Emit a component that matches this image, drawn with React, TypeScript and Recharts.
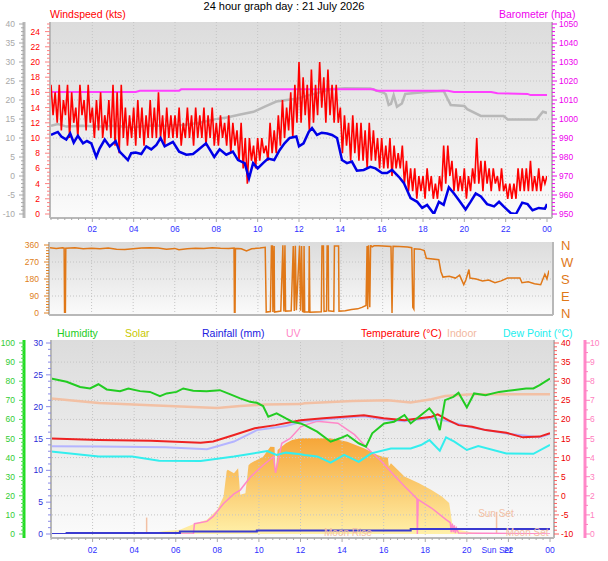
import {
  Area,
  CartesianGrid,
  ComposedChart,
  Line,
  ReferenceDot,
  ReferenceLine,
  XAxis,
  YAxis,
} from "recharts";

const FONT = "'Liberation Sans', Arial, Helvetica, sans-serif";

// ---------- top panel: wind + barometer ----------
// gust speed (kts), one reading every 6 minutes, 00:00 -> 24:00
const gustKts = [
  17, 13, 16, 12, 17, 11, 15, 13, 17, 10,
  16, 12, 14, 10, 17, 13, 15, 11, 17, 12,
  14, 10, 15, 11, 16, 10, 13, 11, 15, 10,
  17, 9, 16, 8, 17, 10, 14, 9, 13, 10,
  14, 9, 15, 10, 14, 9, 13, 10, 15, 10,
  14, 10, 16, 10, 13, 9, 14, 10, 13, 10,
  13, 10, 14, 9, 12, 10, 14, 10, 13, 9,
  14, 10, 13, 10, 14, 9, 13, 10, 14, 9,
  12, 9, 13, 10, 12, 9, 13, 8, 12, 9,
  11, 7, 12, 6, 10, 4, 10, 7, 9, 6,
  10, 7, 10, 8, 9, 7, 12, 8, 11, 8,
  13, 9, 15, 10, 14, 11, 16, 10, 17, 12,
  20, 12, 18, 13, 17, 11, 19, 12, 17, 13,
  20, 14, 18, 12, 19, 13, 17, 12, 17, 12,
  14, 8, 13, 9, 12, 7, 13, 8, 12, 7,
  12, 7, 11, 6, 12, 7, 11, 7, 10, 6,
  10, 6, 9, 6, 10, 5, 9, 6, 8, 6,
  9, 4, 7, 3, 6, 3, 6, 2, 5, 3,
  5, 2, 6, 3, 5, 2, 4, 2, 5, 3,
  9, 4, 9, 5, 7, 3, 6, 3, 5, 3,
  6, 2, 5, 3, 6, 4, 10, 4, 7, 3,
  7, 4, 6, 3, 6, 4, 5, 3, 6, 3,
  4, 2, 4, 2, 4, 2, 6, 3, 6, 3,
  6, 3, 7, 3, 5, 3, 6, 3, 5, 4,
  5,
];

type Pair = [number, number];

// average wind (kts)
const avgWind: Pair[] = [
  [0, 10.4], [0.33, 10.8], [0.5, 10.2], [0.74, 9.8], [0.93, 10.6], [1.1, 9.4], [1.3, 10.3],
  [1.55, 9.3], [1.74, 9.6], [1.95, 9.3], [2.19, 7.5], [2.35, 8.6], [2.6, 9.8], [2.84, 8.9],
  [3.13, 9.6], [3.32, 8.2], [3.72, 7.1], [3.88, 8.0], [4.1, 8.1], [4.37, 7.9], [4.61, 8.9],
  [4.85, 8.5], [5.1, 9.1], [5.3, 10.0], [5.5, 8.9], [5.9, 9.5], [6.2, 8.2], [6.55, 7.8],
  [6.87, 7.9], [7.1, 8.4], [7.5, 9.3], [7.9, 7.5], [8.16, 8.5], [8.48, 7.8], [8.8, 8.2],
  [9.05, 7.1], [9.37, 6.7], [9.58, 4.7], [9.78, 6.7], [10.0, 6.0], [10.26, 6.7], [10.5, 7.3],
  [10.8, 7.1], [11.06, 8.4], [11.3, 9.3], [11.55, 10.0], [11.87, 10.2], [12.0, 8.9],
  [12.22, 9.3], [12.47, 10.8], [12.63, 11.3], [12.87, 10.4], [13.1, 10.7], [13.36, 10.6],
  [13.6, 10.4], [13.84, 10.0], [14.08, 7.1], [14.32, 6.7], [14.56, 6.9], [14.8, 5.7],
  [15.13, 5.8], [15.45, 6.2], [15.7, 6.0], [16.02, 5.4], [16.26, 5.4], [16.5, 5.8],
  [16.83, 4.9], [17.07, 4.1], [17.4, 2.1], [17.72, 1.6], [17.96, 0.8], [18.2, 1.2],
  [18.53, 0], [18.77, 1.6], [19.0, 1.2], [19.25, 3.5], [19.5, 2.7], [19.74, 1.8],
  [20.06, 0.6], [20.3, 1.6], [20.55, 2.7], [20.8, 2.3], [21.1, 1.3], [21.44, 1.0],
  [21.68, 1.6], [21.9, 1.0], [22.25, 0.1], [22.5, 0], [22.8, 1.5], [23.06, 1.3],
  [23.3, 0.5], [23.6, 0.8], [23.9, 0.7], [24, 1.3],
];

// grey trace, left grey scale
const greyTrace: Pair[] = [
  [0, 13.2], [0.33, 13.7], [0.75, 13.0], [1.5, 13.2], [2.3, 13.0], [3.1, 13.2], [3.9, 12.8],
  [4.7, 13.2], [5.6, 13.2], [6.4, 13.4], [7.2, 14.0], [7.9, 14.9], [8.5, 15.4], [9.1, 16.1],
  [9.8, 16.9], [10.4, 18.4], [10.9, 19.6], [11.4, 20.0], [12.0, 20.4], [12.22, 20.9],
  [12.87, 21.8], [13.5, 22.8], [14.2, 23.1], [15.45, 23.0], [16.1, 21.9], [16.2, 21.5],
  [16.34, 18.7], [16.45, 19], [16.58, 21.3], [16.74, 18.2], [16.98, 19.1], [17.14, 21.6],
  [17.72, 21.9], [18.37, 22.2], [19.0, 22.4], [19.18, 20.4], [19.34, 18.7], [20.0, 18.4],
  [20.14, 17.6], [20.8, 15.8], [21.9, 15.8], [22.1, 14.9], [23.5, 14.9], [23.8, 16.9],
  [24, 16.6],
];

const baroHpa: Pair[] = [
  [0, 1014.2], [4.1, 1014.2], [4.3, 1014.9], [6.2, 1014.9], [6.3, 1015.6], [15.6, 1015.6],
  [15.75, 1014.9], [19.2, 1014.9], [19.5, 1014.2], [21.3, 1014.2], [21.6, 1013.5],
  [23.06, 1013.2], [23.2, 1012.6], [24, 1012.6],
];

// ---------- middle panel: wind direction (deg) ----------
const windDir: Pair[] = [
  [0, 345], [0.3, 342], [0.6, 346], [0.68, 344], [0.7, 0], [0.74, 0], [0.76, 343], [1.2, 345],
  [1.6, 340], [2, 343], [2.4, 340], [2.8, 344], [3.2, 338], [3.6, 336], [4, 340], [4.4, 344],
  [4.8, 346], [5.2, 344], [5.6, 338], [6, 342], [6.2, 335], [6.6, 340], [7, 343], [7.4, 342],
  [7.8, 346], [8.2, 343], [8.6, 342], [8.85, 344], [8.87, 0], [8.9, 0], [8.92, 342],
  [9.2, 340], [9.45, 328], [9.7, 340], [10.1, 344], [10.35, 348], [10.4, 5], [10.6, 8],
  [10.65, 355], [10.7, 355], [10.72, 5], [10.78, 355], [10.8, 5], [11.1, 10], [11.2, 358],
  [11.25, 8], [11.3, 358], [11.33, 10], [11.6, 12], [11.7, 355], [11.75, 10], [11.8, 356],
  [11.85, 15], [12, 356], [12.05, 12], [12.1, 355], [12.15, 8], [12.2, 6], [12.22, 355],
  [12.25, 5], [12.45, 5], [12.47, 355], [12.5, 4], [13.05, 6], [13.08, 355], [13.15, 355],
  [13.18, 8], [13.3, 10], [13.33, 355], [13.38, 355], [13.4, 12], [13.65, 8], [13.68, 355],
  [13.88, 355], [13.9, 10], [14.2, 12], [14.5, 18], [14.8, 22], [15.0, 30], [15.2, 40],
  [15.25, 355], [15.28, 20], [15.32, 358], [15.38, 30], [15.42, 358], [15.5, 350],
  [15.6, 357], [16, 355], [16.4, 352], [16.45, 0], [16.5, 353], [16.8, 352], [17.2, 350],
  [17.4, 346], [17.45, 30], [17.5, 20], [17.52, 340], [17.8, 338], [18.0, 330], [18.1, 290],
  [18.7, 282], [18.8, 220], [18.9, 190], [19.2, 195], [19.5, 185], [19.7, 200], [19.9, 150],
  [20.0, 175], [20.15, 230], [20.2, 185], [20.5, 180], [20.8, 170], [21.1, 175], [21.4, 160],
  [21.7, 170], [22.0, 185], [22.3, 185], [22.6, 185], [22.7, 160], [23.0, 165], [23.3, 155],
  [23.6, 150], [23.8, 205], [23.9, 180], [24, 225],
];
const compassLabels = ["N", "E", "S", "W", "N"];

// ---------- bottom panel ----------
const humidity: Pair[] = [
  [0, 81.4], [0.75, 79.7], [1.4, 77.0], [1.88, 76.2], [2.28, 78.4], [2.68, 75.7], [3.32, 74.8],
  [3.72, 76.2], [4.28, 74.8], [4.76, 74.4], [5.24, 72.2], [5.56, 73.6], [6.04, 74.4],
  [6.36, 76.2], [6.84, 75.0], [7.48, 74.8], [8.12, 75.3], [8.6, 73.2], [9.1, 71.0],
  [9.58, 69.2], [9.9, 68.7], [10.2, 67.0], [10.45, 61.4], [10.85, 63.2], [11.3, 60.5],
  [11.6, 58.8], [12.0, 57.9], [12.2, 57.0], [12.8, 53.6], [13.45, 48.3], [13.9, 50.1],
  [14.25, 51.8], [14.8, 47.5], [15.15, 45.7], [15.45, 52.7], [16.02, 57.9], [16.5, 58.8],
  [17.0, 62.3], [17.3, 57.9], [17.8, 62.3], [18.2, 65.8], [18.45, 62.3], [18.7, 54.4],
  [18.95, 70.1], [19.35, 71.8], [19.6, 73.9], [20.0, 66.3], [20.35, 73.6], [20.9, 72.7],
  [21.55, 74.4], [22.2, 75.3], [22.85, 76.2], [23.2, 76.2], [23.5, 77.9], [24, 81.4],
];
const tempOut: Pair[] = [
  [0, 15.0], [2.3, 14.6], [4.8, 14.4], [7.2, 13.9], [7.8, 14.2], [8.8, 15.9], [9.8, 17.7],
  [10.8, 18.5], [12.0, 19.8], [13.1, 20.3], [15.05, 21.1], [16.0, 20.3], [17.0, 19.8],
  [18.3, 20.7], [18.6, 21.3], [19.1, 19.8], [19.6, 18.5], [20.25, 18.1], [20.9, 17.2],
  [21.9, 16.5], [22.7, 15.3], [23.5, 15.5], [24, 16.4],
];
const tempIn: Pair[] = [
  [0, 25.5], [2.3, 24.3], [4.8, 23.7], [8.0, 23.0], [9.1, 23.5], [10.3, 23.9], [12.0, 24.0],
  [12.2, 24.2], [14.5, 24.8], [16.2, 25.0], [17.3, 24.4], [18.3, 25.3], [18.95, 26.1],
  [20.25, 26.6], [24, 26.6],
];
const dewPoint: Pair[] = [
  [0, 11.6], [2.3, 10.3], [3.9, 10.3], [5.2, 9.2], [7.2, 9.1], [8.8, 10.3], [10.4, 11.7],
  [10.85, 10.7], [11.3, 11.3], [12.0, 10.9], [12.2, 10.7], [12.8, 10.3], [13.45, 8.7],
  [14.1, 10.7], [14.8, 8.9], [15.4, 11.1], [16.35, 12.4], [17.3, 12.4], [17.8, 13.3],
  [18.2, 14.6], [18.7, 11.8], [19.0, 15.3], [19.4, 14.2], [20.0, 12.0], [20.55, 13.0],
  [21.9, 11.1], [23.2, 11.0], [24, 13.3],
];
const feelsLike: Pair[] = [
  [0, 13.0], [2.3, 12.9], [5.5, 12.7], [7.5, 12.2], [8.8, 14.2], [9.9, 17.2], [11.3, 18.3],
  [12.0, 19.3], [13.1, 20.0], [15.05, 20.8], [16, 20.0], [17, 19.5], [18.3, 20.4],
  [19.1, 19.5], [20.25, 17.9], [21.9, 16.3], [23.5, 15.3], [24, 16.2],
];
const uvIndex: Pair[] = [
  [0, 0], [6.85, 0], [6.9, 0.54], [7.5, 0.66], [7.8, 0.92], [8.3, 1.6], [8.8, 2.1], [9.1, 2.3],
  [9.6, 3.0], [10.2, 3.6], [10.7, 4.05], [10.8, 3.2], [11.1, 4.75], [11.5, 5.0], [12.0, 5.6],
  [12.2, 5.7], [12.8, 5.9], [13.8, 5.8], [14.6, 5.2], [15.2, 4.5], [15.9, 3.8], [16.4, 3.2],
  [17.0, 2.5], [17.6, 1.85], [17.62, 0], [17.66, 1.8], [18.3, 1.36], [19.0, 0.75],
  [19.2, 0.6], [19.25, 0.1], [19.3, 0.55], [19.35, 0.1], [19.4, 0.45], [19.45, 0.05],
  [19.5, 0.3], [19.6, 0.05], [24, 0],
];
const rainMm: Pair[] = [[0, 0], [0.75, 0.15], [6.2, 0.4], [9.9, 0.55], [17.3, 0.8], [24, 0.8]];
const solarWm2: Pair[] = [
  [0, 0], [4.6, 0], [5.4, 14], [6.2, 22], [6.9, 54], [7.5, 75], [8.0, 127], [8.3, 196],
  [8.45, 330], [8.5, 336], [8.8, 318], [9.0, 344], [9.1, 205], [9.35, 214], [9.5, 360],
  [9.6, 370], [9.9, 388], [10.2, 405], [10.55, 457], [10.75, 455], [10.8, 318], [10.9, 440],
  [11.3, 475], [11.6, 492], [12, 501], [13.45, 501], [14.25, 483], [15.05, 449], [15.7, 414],
  [16.0, 402], [16.2, 400], [16.25, 353], [16.35, 370], [17.0, 301], [17.7, 266], [18.3, 231],
  [18.8, 196], [19.15, 162], [19.2, 127], [19.3, 49], [19.6, 22], [20.25, 8], [21.2, 3],
  [21.9, 0], [24, 0],
];
const SUN_RISE = 4.6;
const SUN_SET = 21.43;

// ---------- helpers ----------
const pts = (rows: Pair[]) => rows.map(([t, v]) => ({ t, v }));
const gustPts = gustKts.map((v, i) => ({ t: i / 10, v }));

function steps(from: number, to: number, step: number) {
  const out: number[] = [];
  for (let v = from; v <= to + 1e-9; v += step) out.push(Math.round(v * 1000) / 1000);
  return out;
}

const AXIS = { stroke: "#b8b8b8", strokeWidth: 2 };
const xTicks = steps(0, 24, 1 / 3);
const evenHours = steps(2, 22, 2);

function makeXTick(labelDy: number, specials: Record<string, string> = {}) {
  return (p: any) => {
    const v = Number(p.payload.value);
    const special = specials[String(v)];
    const whole = Math.abs(v - Math.round(v)) < 1e-6;
    const even = whole && Math.round(v) % 2 === 0 && v > 0;
    const label = special ?? (even ? (Math.round(v) === 24 ? "00" : String(Math.round(v)).padStart(2, "0")) : null);
    return (
      <g>
        {!special && <line x1={p.x} x2={p.x} y1={p.y} y2={p.y + (even ? 4 : 2)} stroke="#a8a8a8" />}
        {label && (
          <text x={p.x} y={p.y + labelDy} textAnchor="middle" fill="#3030ff" fontSize={8.5} fontFamily={FONT}>
            {label}
          </text>
        )}
      </g>
    );
  };
}

type YTickOpts = {
  side: "left" | "right";
  major: number;
  color: string;
  tickColor?: string;
  gap: number;
  fmt?: (v: number) => string;
};

function makeYTick(o: YTickOpts) {
  return (p: any) => {
    const v = Number(p.payload.value);
    const r = v / o.major;
    const isMajor = Math.abs(r - Math.round(r)) < 1e-6;
    const dir = o.side === "left" ? -1 : 1;
    return (
      <g>
        <line x1={p.x} x2={p.x + dir * (isMajor ? 5 : 3)} y1={p.y} y2={p.y} stroke={o.tickColor ?? o.color} />
        {isMajor && (
          <text
            x={p.x + dir * o.gap}
            y={p.y}
            dy={3}
            textAnchor={o.side === "left" ? "end" : "start"}
            fill={o.color}
            fontSize={8.5}
            fontFamily={FONT}
          >
            {o.fmt ? o.fmt(v) : v}
          </text>
        )}
      </g>
    );
  };
}

const noTickLine = { tickSize: 0, tickMargin: 0, tickLine: false, interval: 0 as const };

function Bg({ id }: { id: string }) {
  return (
    <defs>
      <linearGradient id={id} x1="0" y1="0" x2="0" y2="1">
        <stop offset="0%" stopColor="#dcdcdc" />
        <stop offset="55%" stopColor="#ececec" />
        <stop offset="100%" stopColor="#fbfbfb" />
      </linearGradient>
    </defs>
  );
}

const gridLine = { stroke: "#c4c4c4", strokeDasharray: "1 2" };

function label(text: string, color: string, left: number, top: number, size = 10.5) {
  return (
    <div style={{ position: "absolute", left, top, color, fontSize: size, fontFamily: FONT, whiteSpace: "nowrap", lineHeight: "13px" }}>
      {text}
    </div>
  );
}

// Recharts stacks same-side axes by id order: "a..." sits next to the plot, "b..." outside it.
function WindPanel() {
  return (
    <ComposedChart width={608} height={240} margin={{ top: 22, right: 0, bottom: 0, left: 0 }}>
      <Bg id="bgTop" />
      <CartesianGrid yAxisId="aWind" horizontal={false} vertical={false} fill="url(#bgTop)" />
      <XAxis
        dataKey="t" type="number" domain={[0, 24]} allowDataOverflow ticks={xTicks}
        tick={makeXTick(14)} {...noTickLine} axisLine={AXIS} height={22} padding={{ left: 1, right: 5 }}
      />
      <YAxis
        yAxisId="aWind" domain={[0, 25]} allowDataOverflow ticks={steps(0, 25, 0.5)} width={26}
        padding={{ top: 2, bottom: 4 }} axisLine={AXIS} {...noTickLine}
        tick={makeYTick({ side: "left", major: 2, color: "#ff0000", tickColor: "#ff8080", gap: 10 })}
      />
      <YAxis
        yAxisId="bGrey" domain={[-10, 40]} allowDataOverflow ticks={steps(-10, 40, 1)} width={24}
        padding={{ top: 2, bottom: 4 }} axisLine={{ stroke: "#b8b8b8", strokeWidth: 3 }} {...noTickLine}
        tick={makeYTick({ side: "left", major: 5, color: "#a8a8a8", gap: 9 })}
      />
      <YAxis
        yAxisId="baro" orientation="right" domain={[950, 1050]} allowDataOverflow ticks={steps(950, 1050, 2)}
        width={56} padding={{ top: 2, bottom: 4 }} axisLine={AXIS} {...noTickLine}
        tick={makeYTick({ side: "right", major: 10, color: "#ee00ee", gap: 7 })}
      />
      {evenHours.map((h) => (
        <ReferenceLine key={`v${h}`} x={h} yAxisId="aWind" {...gridLine} />
      ))}
      {steps(-5, 35, 5).map((g) => (
        <ReferenceLine key={`h${g}`} y={g} yAxisId="bGrey" {...gridLine} />
      ))}
      <Line data={pts(greyTrace)} dataKey="v" yAxisId="bGrey" stroke="#b8b8b8" strokeWidth={2.5} dot={false} activeDot={false} isAnimationActive={false} />
      <Line data={pts(baroHpa)} dataKey="v" yAxisId="baro" stroke="#ff40ff" strokeWidth={2} dot={false} activeDot={false} isAnimationActive={false} />
      <Line data={gustPts} dataKey="v" yAxisId="aWind" stroke="#ff0000" strokeWidth={1.6} dot={false} activeDot={false} isAnimationActive={false} />
      <Line data={pts(avgWind)} dataKey="v" yAxisId="aWind" stroke="#0000e8" strokeWidth={2.5} dot={false} activeDot={false} isAnimationActive={false} />
    </ComposedChart>
  );
}

function DirectionPanel() {
  return (
    <ComposedChart width={608} height={92} margin={{ top: 10, right: 0, bottom: 8, left: 0 }}>
      <Bg id="bgMid" />
      <CartesianGrid yAxisId="dir" horizontal={false} vertical={false} fill="url(#bgMid)" />
      <XAxis
        dataKey="t" type="number" domain={[0, 24]} allowDataOverflow ticks={xTicks} tick={false}
        tickLine={false} axisLine={AXIS} height={1} padding={{ left: 1, right: 4 }}
      />
      <YAxis
        yAxisId="dir" domain={[0, 360]} allowDataOverflow ticks={steps(0, 360, 15)} width={49}
        padding={{ top: 3, bottom: 2 }} axisLine={AXIS} {...noTickLine}
        tick={makeYTick({ side: "left", major: 90, color: "#e08020", gap: 10 })}
      />
      <YAxis
        yAxisId="compass" orientation="right" domain={[0, 360]} allowDataOverflow ticks={[0, 90, 180, 270, 360]}
        width={55} padding={{ top: 3, bottom: 2 }} axisLine={AXIS} tickLine={false} tickSize={0} tickMargin={8}
        interval={0} tickFormatter={(v: number) => compassLabels[v / 90]}
        tick={{ fill: "#e07818", fontSize: 13, fontFamily: FONT }}
      />
      {evenHours.map((h) => (
        <ReferenceLine key={`v${h}`} x={h} yAxisId="dir" {...gridLine} />
      ))}
      {[90, 180, 270].map((g) => (
        <ReferenceLine key={`h${g}`} y={g} yAxisId="dir" {...gridLine} />
      ))}
      <Line data={pts(windDir)} dataKey="v" yAxisId="dir" stroke="#e07818" strokeWidth={1.5} dot={false} activeDot={false} isAnimationActive={false} />
    </ComposedChart>
  );
}

function WeatherPanel() {
  const beige = "#f2c0a4";
  return (
    <ComposedChart width={608} height={231} margin={{ top: 10, right: 0, bottom: 0, left: 0 }}>
      <Bg id="bgBot" />
      <defs>
        <linearGradient id="solarFill" x1="0" y1="0" x2="0" y2="1">
          <stop offset="0%" stopColor="#f6a638" />
          <stop offset="100%" stopColor="#fff0a8" />
        </linearGradient>
      </defs>
      <CartesianGrid yAxisId="aTemp" horizontal={false} vertical={false} fill="url(#bgBot)" />
      <XAxis
        dataKey="t" type="number" domain={[0, 24]} allowDataOverflow ticks={[...xTicks, SUN_SET]}
        tick={makeXTick(15, { [String(SUN_SET)]: "Sun Set" })} {...noTickLine} axisLine={AXIS} height={23}
        padding={{ left: 0, right: 4 }}
      />
      <YAxis
        yAxisId="aRain" domain={[0, 30]} allowDataOverflow ticks={steps(0, 30, 1)} width={27}
        padding={{ top: 3, bottom: 4 }} axisLine={AXIS} {...noTickLine}
        tick={makeYTick({ side: "left", major: 5, color: "#2a2ad8", tickColor: "#8a8ae8", gap: 8 })}
      />
      <YAxis
        yAxisId="bHum" domain={[0, 100]} allowDataOverflow ticks={steps(0, 100, 2)} width={24}
        padding={{ top: 3, bottom: 4 }} axisLine={{ stroke: "#22dd22", strokeWidth: 3 }} {...noTickLine}
        tick={makeYTick({ side: "left", major: 10, color: "#33cc33", tickColor: "#55dd55", gap: 9 })}
      />
      <YAxis
        yAxisId="aTemp" orientation="right" domain={[-10, 40]} allowDataOverflow ticks={steps(-10, 40, 1)}
        width={31} padding={{ top: 3, bottom: 4 }} axisLine={AXIS} {...noTickLine}
        tick={makeYTick({ side: "right", major: 5, color: "#ee0000", tickColor: "#ff6060", gap: 7 })}
      />
      <YAxis
        yAxisId="bUv" orientation="right" domain={[0, 10]} allowDataOverflow ticks={steps(0, 10, 0.5)}
        width={23} padding={{ top: 3, bottom: 4 }} axisLine={{ stroke: "#ff88c8", strokeWidth: 3 }} {...noTickLine}
        tick={makeYTick({ side: "right", major: 1, color: "#ff80c0", gap: 5 })}
      />
      <YAxis yAxisId="solar" hide domain={[0, 1000]} allowDataOverflow padding={{ top: 3, bottom: 4 }} />
      {evenHours.map((h) => (
        <ReferenceLine key={`v${h}`} x={h} yAxisId="aTemp" {...gridLine} />
      ))}
      {steps(-5, 35, 5).map((g) => (
        <ReferenceLine key={`h${g}`} y={g} yAxisId="aTemp" {...gridLine} />
      ))}
      <Area data={pts(solarWm2)} dataKey="v" yAxisId="solar" type="linear" stroke="none" fill="url(#solarFill)" fillOpacity={1} dot={false} activeDot={false} isAnimationActive={false} />
      <ReferenceLine segment={[{ x: SUN_RISE, y: -10 }, { x: SUN_RISE, y: -5.7 }]} yAxisId="aTemp" stroke={beige} strokeWidth={1.5} />
      <ReferenceLine segment={[{ x: SUN_SET, y: -10 }, { x: SUN_SET, y: -4.2 }]} yAxisId="aTemp" stroke={beige} strokeWidth={1.5} />
      <ReferenceDot x={21.4} y={-4.5} yAxisId="aTemp" r={1} fill="none" stroke="none"
        label={{ value: "Sun Set", position: "center", fill: beige, fontSize: 10, fontFamily: FONT }} />
      <ReferenceDot x={14.28} y={-9.7} yAxisId="aTemp" r={1} fill="none" stroke="none"
        label={{ value: "Moon Rise", position: "center", fill: beige, fontSize: 10, fontFamily: FONT }} />
      <ReferenceDot x={22.9} y={-9.7} yAxisId="aTemp" r={1} fill="none" stroke="none"
        label={{ value: "Moon Set", position: "center", fill: beige, fontSize: 10, fontFamily: FONT }} />
      <Line data={pts(tempIn)} dataKey="v" yAxisId="aTemp" stroke={beige} strokeWidth={2.5} dot={false} activeDot={false} isAnimationActive={false} />
      <Line data={pts(uvIndex)} dataKey="v" yAxisId="bUv" stroke="#ff88c8" strokeWidth={1.5} dot={false} activeDot={false} isAnimationActive={false} />
      <Line data={pts(feelsLike)} dataKey="v" yAxisId="aTemp" stroke="#b4b4ff" strokeWidth={2} dot={false} activeDot={false} isAnimationActive={false} />
      <Line data={pts(dewPoint)} dataKey="v" yAxisId="aTemp" stroke="#33eeee" strokeWidth={2} dot={false} activeDot={false} isAnimationActive={false} />
      <Line data={pts(tempOut)} dataKey="v" yAxisId="aTemp" stroke="#ee2222" strokeWidth={2} dot={false} activeDot={false} isAnimationActive={false} />
      <Line data={pts(humidity)} dataKey="v" yAxisId="bHum" stroke="#22cc22" strokeWidth={2} dot={false} activeDot={false} isAnimationActive={false} />
      <Line data={pts(rainMm)} dataKey="v" yAxisId="aRain" type="stepAfter" stroke="#3a3ad0" strokeWidth={2} dot={false} activeDot={false} isAnimationActive={false} />
    </ComposedChart>
  );
}

export default function App() {
  return (
    <div style={{ position: "absolute", left: 0, top: 0, width: 608, height: 561, background: "#ffffff", overflow: "hidden", fontFamily: FONT }}>
      <div style={{ position: "absolute", left: 0, top: 0 }}>
        <WindPanel />
      </div>
      <div style={{ position: "absolute", left: 0, top: 232 }}>
        <DirectionPanel />
      </div>
      <div style={{ position: "absolute", left: 0, top: 330 }}>
        <WeatherPanel />
      </div>
      <div style={{ position: "absolute", left: 0, top: 0, width: 568, textAlign: "center", fontSize: 11, fontFamily: FONT, lineHeight: "13px" }}>
        24 hour graph day : 21 July 2026
      </div>
      {label("Windspeed (kts)", "#ff0000", 50, 8)}
      {label("Barometer (hpa)", "#ee00ee", 499, 8)}
      {label("Humidity", "#22cc22", 57, 327)}
      {label("Solar", "#c8c800", 125, 327)}
      {label("Rainfall (mm)", "#2020e0", 202, 327)}
      {label("UV", "#ff88c8", 286, 327)}
      {label("Temperature (°C)", "#ff0000", 361, 327)}
      {label("Indoor", "#f2b8a0", 447, 327)}
      {label("Dew Point (°C)", "#22eeee", 503, 327)}
    </div>
  );
}
